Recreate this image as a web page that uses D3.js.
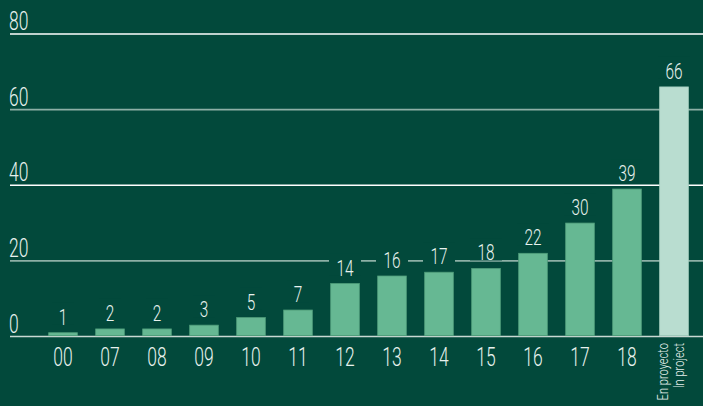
<!DOCTYPE html>
<html><head><meta charset="utf-8">
<script src="https://cdn.jsdelivr.net/npm/d3@7"></script>
<style>
html,body{margin:0;padding:0;background:#02493b;}
svg{display:block;}
text{font-family:Roboto,"Liberation Sans",sans-serif;font-weight:300;fill:#e8f2ee;}
</style></head>
<body>
<svg id="c" width="703" height="406"></svg>
<script>
const categories = ["00","07","08","09","10","11","12","13","14","15","16","17","18","proj"];
const values = [1,2,2,3,5,7,14,16,17,18,22,30,39,66];
const yTicks = [0,20,40,60,80];
const projLabels = ["En proyecto","In project"];

const W = 703, H = 406;
const svg = d3.select("#c");
svg.append("rect").attr("width",W).attr("height",H).attr("fill","#02493b");

const x = d3.scaleBand().domain(categories).range([39.5,697.5]).paddingInner(0.39).paddingOuter(0.195);
const y = d3.scaleLinear().domain([0,80]).range([336.5,34]);
const SX = 0.7;

// gridlines
const gridColor = v => v===0 ? "#c9d9d3" : (v===40||v===80) ? "#ffffff" : "#8db0a6";
svg.append("g").selectAll("line").data(yTicks).join("line")
  .attr("x1",10).attr("x2",W)
  .attr("y1",d=>y(d)).attr("y2",d=>y(d))
  .attr("stroke",d=>gridColor(d)).attr("stroke-width",1.6);

// y tick labels
svg.append("g").selectAll("text").data(yTicks).join("text")
  .attr("transform",d=>`translate(9,${y(d)-4}) scale(${SX},1)`)
  .attr("font-size",25).text(d=>d);

// bars
svg.append("g").selectAll("rect").data(values).join("rect")
  .attr("x",(d,i)=>x(categories[i]))
  .attr("width",x.bandwidth())
  .attr("y",d=>y(d))
  .attr("height",d=>y(0)-y(d)-0.8)
  .attr("fill",(d,i)=>categories[i]==="proj" ? "#b9ddd0" : "#66b893")
  .attr("stroke",(d,i)=>categories[i]==="proj" ? "#a6cfc0" : "#4f9d7a")
  .attr("stroke-width",0.8);

// value labels with background
const vl = svg.append("g").selectAll("g").data(values).join("g")
  .attr("transform",(d,i)=>`translate(${x(categories[i])+x.bandwidth()/2},${y(d)-8})`);
vl.append("rect")
  .attr("x",d=>-(String(d).length*10)/2-6)
  .attr("width",d=>String(d).length*10+12)
  .attr("y",-22).attr("height",22)
  .attr("fill","#02493b");
vl.append("text")
  .attr("transform",`scale(${SX},1)`)
  .attr("text-anchor","middle")
  .attr("font-size",22).text(d=>d);

// x tick labels
svg.append("g").selectAll("text").data(categories.filter(c=>c!=="proj")).join("text")
  .attr("transform",d=>`translate(${x(d)+x.bandwidth()/2},366) scale(${SX},1)`)
  .attr("text-anchor","middle").attr("font-size",25).text(d=>d);

// rotated projection labels
const px = x("proj")+x.bandwidth()/2;
projLabels.forEach((t,i)=>{
  svg.append("text")
    .attr("transform",`translate(${px-6+i*16},343) rotate(-90) scale(0.74,1)`)
    .attr("text-anchor","end").attr("font-size",15).text(t);
});
</script>
</body></html>
